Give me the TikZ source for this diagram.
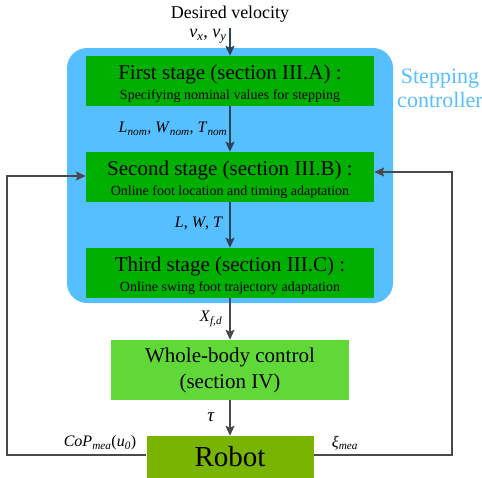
\documentclass[tikz,border=0pt]{standalone}
\usepackage{fontspec}
\setmainfont{Liberation Serif}
\usetikzlibrary{arrows.meta}
\definecolor{bluebg}{HTML}{56BFFF}
\definecolor{stagegreen}{HTML}{00B000}
\definecolor{wbgreen}{HTML}{60D838}
\definecolor{robotgreen}{HTML}{78B400}
\definecolor{darkarrow}{HTML}{2A4456}
\definecolor{grayarrow}{HTML}{4A4A4A}
\newcommand{\isub}[2]{\textit{#1}\textsubscript{\textit{#2}}}
\tikzset{
  stagebox/.style={fill=stagegreen, minimum width=288pt, minimum height=50pt, inner sep=0pt},
  ttl/.style={inner sep=0pt, font=\fontsize{21}{24}\selectfont},
  sub/.style={inner sep=0pt, font=\fontsize{14}{16}\selectfont},
  flow/.style={line width=2pt, -{Stealth[length=10pt,width=9pt,inset=2pt]}},
  lbl/.style={inner sep=0pt, font=\fontsize{16}{18}\selectfont}
}
\begin{document}
\begin{tikzpicture}[x=1pt,y=-1pt]
\useasboundingbox (0,0) rectangle (482,477);
\fill[bluebg, rounded corners=20pt] (67,48) rectangle (393,303);
\node[text=bluebg, align=center, font=\fontsize{22}{24}\selectfont, inner sep=0pt] (sc) at (440,88) {Stepping\\controller};

\node[stagebox] (s1) at (230,81) {};
\node[ttl] (s1t) at (230,74) {First stage (section III.A) :};
\node[sub] (s1s) at (230,96) {Specifying nominal values for stepping};
\node[stagebox] (s2) at (230,177) {};
\node[ttl] (s2t) at (230,170) {Second stage (section III.B) :};
\node[sub] (s2s) at (230,192) {Online foot location and timing adaptation};
\node[stagebox] (s3) at (230,273) {};
\node[ttl] (s3t) at (230,266) {Third stage (section III.C) :};
\node[sub] (s3s) at (230,288) {Online swing foot trajectory adaptation};

\node[fill=wbgreen, minimum width=238pt, minimum height=60pt, inner sep=0pt] (wb) at (230,370) {};
\node[ttl] (wb1) at (230,357) {Whole-body control};
\node[ttl] (wb2) at (230,383) {(section IV)};
\node[fill=robotgreen, minimum width=167pt, minimum height=42pt, inner sep=0pt, font=\fontsize{29}{30}\selectfont] (robot) at (230,457) {Robot};

\node[font=\fontsize{18}{20}\selectfont, inner sep=0pt] (dv) at (230,14) {Desired velocity};
\coordinate (top) at (230,28);
\draw[flow, darkarrow] (top) -- (s1.north);
\draw[flow, darkarrow] (s1) -- (s2);
\draw[flow, darkarrow] (s2) -- (s3);
\draw[flow, grayarrow] (s3) -- (wb);
\draw[flow, grayarrow] (wb) -- (robot);

\node[lbl, font=\fontsize{18}{20}\selectfont] (vv) at (208,36) {\isub{v}{x}, \isub{v}{y}};
\node[lbl] (lnom) at (173,129) {\isub{L}{nom}, \isub{W}{nom}, \isub{T}{nom}};
\node[lbl] (lwt) at (199,223) {\textit{L}, \textit{W}, \textit{T}};
\node[lbl] (xfd) at (211,319) {\isub{X}{f,d}};
\node[lbl, font=\fontsize{19}{20}\selectfont] (tau) at (211,417) {\textit{τ}};
\node[lbl] (cop) at (100,443) {\textit{CoP}\textsubscript{\textit{mea}}(\isub{u}{0})};
\node[lbl] (xi) at (345,443) {\isub{ξ}{mea}};

\coordinate (lc) at (7,176);
\coordinate (rc) at (452,172);
\draw[flow, grayarrow] (robot.west |- 0,455) -| (lc) -- (s2.west |- lc);
\draw[flow, grayarrow] (robot.east |- 0,455) -| (rc) -- (s2.east |- rc);
\end{tikzpicture}
\end{document}
